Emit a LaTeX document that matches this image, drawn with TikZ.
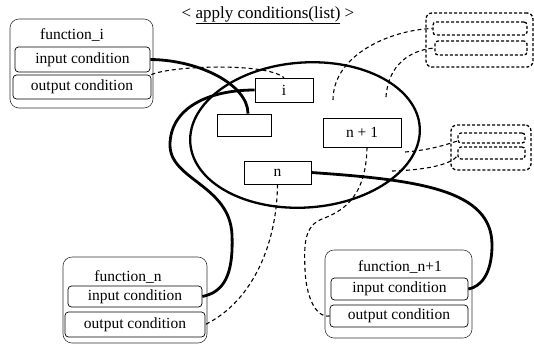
\documentclass[tikz,border=0pt]{standalone}
\usepackage{fontspec}
\setmainfont{Liberation Serif}
\usetikzlibrary{shapes.geometric}
\begin{document}
\begin{tikzpicture}[x=1pt,y=-1pt,
  every node/.style={font=\fontsize{15.5}{18}\selectfont, inner sep=0pt},
  fbox/.style={draw=black!80, line width=0.6pt, rounded corners=9pt},
  rowbox/.style={draw, line width=0.7pt, rounded corners=3.5pt},
  ibox/.style={draw, line width=0.7pt},
  dbox/.style={draw, line width=1.3pt, dash pattern=on 3pt off 2pt, rounded corners=6pt},
  drow/.style={draw, line width=1.3pt, dash pattern=on 3pt off 2pt, rounded corners=3pt},
  thk/.style={line width=2.8pt},
  dln/.style={line width=1.1pt, dash pattern=on 4pt off 3pt}]
\useasboundingbox (0,0) rectangle (534,346);
\fill[white] (0,0) rectangle (534,346);

% title
\node (title) at (268,15) {\fontsize{17}{20}\selectfont <~\underline{apply conditions(list)}~>};

% ellipse
\node[ellipse, draw, line width=2.3pt, minimum width=230pt, minimum height=145pt, rotate=4] (ell) at (305,135) {};

% function_i
\node[fbox, minimum width=143pt, minimum height=89pt] (fi) at (81.5,63.5) {};
\node (fiT) at (72,35) {function\_i};
\node[rowbox, minimum width=135pt, minimum height=25pt] (fiIn) at (82.5,59.5) {input condition};
\node[rowbox, minimum width=138pt, minimum height=24pt] (fiOut) at (82,87) {output condition};

% function_n
\node[fbox, minimum width=144pt, minimum height=86pt] (fn) at (135,300) {};
\node (fnT) at (128,277) {function\_n};
\node[rowbox, minimum width=134pt, minimum height=21pt] (fnIn) at (135,296.5) {input condition};
\node[rowbox, minimum width=140pt, minimum height=25pt] (fnOut) at (135,324.5) {output condition};

% function_n+1
\node[fbox, minimum width=147pt, minimum height=88pt] (fp) at (398.5,294) {};
\node (fpT) at (400,267) {function\_n+1};
\node[rowbox, minimum width=137pt, minimum height=22pt] (fpIn) at (399.5,289) {input condition};
\node[rowbox, minimum width=138pt, minimum height=22pt] (fpOut) at (399,316) {output condition};

% boxes in the ellipse
\node[ibox, minimum width=58pt, minimum height=24pt] (boxI) at (284,90) {i};
\node[ibox, minimum width=54pt, minimum height=22pt] (boxB) at (244,125) {};
\node[ibox, minimum width=67pt, minimum height=23pt] (boxN) at (277.5,172.5) {n};
\node[ibox, minimum width=78pt, minimum height=29pt] (boxP) at (362,132.5) {n + 1};

% dashed groups
\node[dbox, minimum width=107pt, minimum height=54pt] (ug) at (479.5,40) {};
\node[drow, minimum width=94pt, minimum height=13pt] (ug1) at (480,28.5) {};
\node[drow, minimum width=92pt, minimum height=14pt] (ug2) at (481,48) {};
\node[dbox, minimum width=80pt, minimum height=45pt] (lg) at (491,147.5) {};
\node[drow, minimum width=67pt, minimum height=10pt] (lg1) at (491.5,138) {};
\node[drow, minimum width=67pt, minimum height=12pt] (lg2) at (491.5,153) {};

% free ends
\coordinate (d1) at (333,100);
\coordinate (d2) at (386,97);
\coordinate (d3) at (405,152);
\coordinate (d4) at (392,171);

% thick connectors
\draw[thk] (fiIn.east) .. controls (200,60) and (248,85) .. ([xshift=4pt]boxB.north);
\draw[thk] (boxI.west) .. controls (205,90) and (170,110) .. (170,145)
  .. controls (170,180) and (230,185) .. (232,235)
  .. controls (233.5,275) and (224,292) .. (fnIn.east);
\draw[thk] (boxN.east) .. controls (420,180) and (492,190) .. (492,245)
  .. controls (492,275) and (480,287) .. (fpIn.east);

% dashed connectors
\draw[dln] (fiOut.north east) .. controls (170,66) and (265,62) .. (boxI.north);
\draw[dln] (boxN.south) .. controls (277,240) and (255,300) .. (fnOut.east);
\draw[dln] ([xshift=5pt]boxP.south) .. controls (366,200) and (340,212) .. (322,219)
  .. controls (304,226) and (304,245) .. (305,270)
  .. controls (306,295) and (315,318) .. (fpOut.west);
\draw[dln] (d1) .. controls (333,55) and (390,30) .. (ug1.west);
\draw[dln] (d2) .. controls (388,65) and (410,50) .. (ug2.west);
\draw[dln] (d3) .. controls (430,150) and (445,145) .. ([yshift=-3pt]lg1.west);
\draw[dln] (d4) .. controls (425,170) and (450,165) .. ([yshift=-3pt]lg2.west);
\end{tikzpicture}
\end{document}
